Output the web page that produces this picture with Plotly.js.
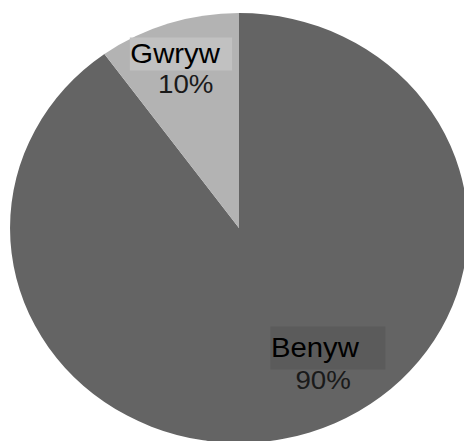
<!DOCTYPE html>
<html>
<head>
<meta charset="utf-8">
<script src="https://cdn.plot.ly/plotly-3.0.1.min.js"></script>
<style>
  html, body { margin: 0; padding: 0; background: #ffffff; overflow: hidden; }
  #wrap { width: 464px; height: 441px; overflow: hidden; position: relative; }
  #plot { width: 464px; height: 460px; transform: scaleX(1.065); transform-origin: 239px 0; }
</style>
</head>
<body>
<div id="wrap"><div id="plot"></div></div>
<script>
// Data
const categories = ["Benyw", "Gwryw"];
const values = [90, 10];
const sliceColors = ["#646464", "#b3b3b3"];

const W = 464, H = 460;
const total = values.reduce((a, b) => a + b, 0);
const pct = values.map(v => Math.round(v / total * 100) + "%");

// Pie geometry (pixels, pre-transform)
const cx = 239, cy = 228, r = 215;

const trace = {
  type: "pie",
  labels: categories,
  values: values,
  sort: false,
  direction: "clockwise",
  rotation: 0,
  textinfo: "none",
  hoverinfo: "none",
  marker: { colors: sliceColors, line: { width: 0 } },
  domain: {
    x: [(cx - r) / W, (cx + r) / W],
    y: [(H - (cy + r)) / H, (H - (cy - r)) / H]
  },
  showlegend: false
};

const font = { family: "'Liberation Sans', Arial, sans-serif", size: 27.5, color: "#000000" };
const pfont = { family: "'Liberation Sans', Arial, sans-serif", size: 26, color: "#1a1a1a" };

const px = x => x / W;
const py = y => (H - y) / H;

const annotations = [
  { text: categories[1], xref: "paper", yref: "paper", x: px(135.7), y: py(37),
    xanchor: "left", yanchor: "top", showarrow: false, width: 95, height: 32,
    align: "left", valign: "middle", bgcolor: "#c1c1c1", borderpad: 0, font: font },
  { text: pct[1], xref: "paper", yref: "paper", x: px(188.8), y: py(84),
    xanchor: "center", yanchor: "middle", showarrow: false, font: pfont },
  { text: categories[0], xref: "paper", yref: "paper", x: px(268.1), y: py(326),
    xanchor: "left", yanchor: "top", showarrow: false, width: 107, height: 42,
    align: "left", valign: "middle", bgcolor: "#5b5b5b", borderpad: 0, font: font },
  { text: pct[0], xref: "paper", yref: "paper", x: px(318.3), y: py(380),
    xanchor: "center", yanchor: "middle", showarrow: false, font: pfont }
];

const layout = {
  width: W, height: H,
  margin: { l: 0, r: 0, t: 0, b: 0, pad: 0 },
  paper_bgcolor: "#ffffff",
  plot_bgcolor: "#ffffff",
  showlegend: false,
  annotations: annotations
};

Plotly.newPlot("plot", [trace], layout, { staticPlot: true, displayModeBar: false });
</script>
</body>
</html>
